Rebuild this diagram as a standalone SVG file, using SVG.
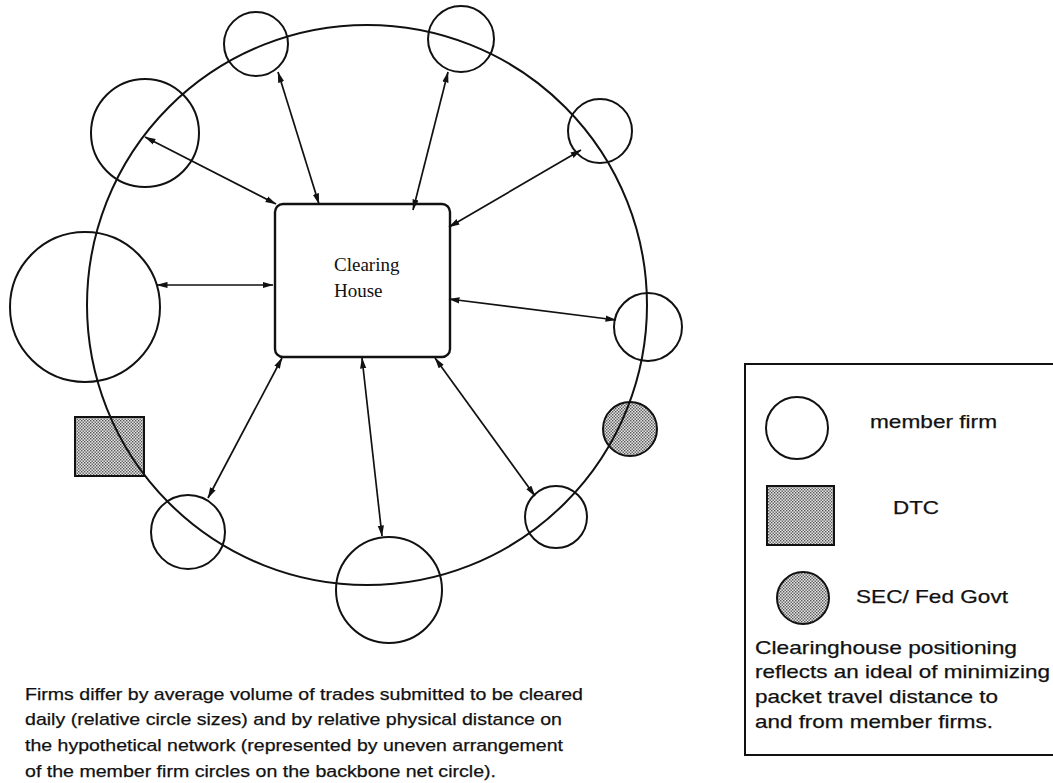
<svg xmlns="http://www.w3.org/2000/svg" width="1053" height="783" viewBox="0 0 1053 783">
  <style>
    .firm { fill: none; stroke: #111; stroke-width: 2; }
    .shaded { fill: url(#stipple); stroke: #111; stroke-width: 2; }
    .backbone { fill: none; stroke: #111; stroke-width: 2; }
    .hub { fill: #fff; stroke: #111; stroke-width: 2.4; }
    .link { stroke: #111; stroke-width: 1.7; fill: none; marker-start: url(#head); marker-end: url(#head); }
    .hubtext { font-family: "Liberation Serif", "Times New Roman", serif; font-size: 19px; fill: #111; }
    .sans { font-family: "Liberation Sans", Arial, sans-serif; fill: #111; stroke: #111; stroke-width: 0.25; }
    .cap { font-size: 17px; }
    .leg { font-size: 19px; }
  </style>
  <defs>
    <pattern id="stipple" width="3" height="3" patternUnits="userSpaceOnUse">
      <rect width="3" height="3" fill="#e4e4e4"/>
      <rect x="0" y="0" width="1.4" height="1.4" fill="#555"/>
      <rect x="1.5" y="1.5" width="1.4" height="1.4" fill="#555"/>
    </pattern>
    <marker id="head" viewBox="0 0 11 7" refX="10.5" refY="3.5" markerWidth="11" markerHeight="7" markerUnits="userSpaceOnUse" orient="auto-start-reverse">
      <path d="M0,0.4 L11,3.5 L0,6.6 Z" fill="#111"/>
    </marker>
  </defs>

  <!-- shaded nodes sit under the backbone ring -->
  <g id="dtc"><rect class="shaded" x="75" y="417" width="69" height="59"/></g>
  <g id="sec-fed"><circle class="shaded" cx="630" cy="429" r="27"/></g>

  <!-- backbone net circle -->
  <g id="backbone"><circle class="backbone" cx="367" cy="305" r="280"/></g>

  <!-- member firms -->
  <g id="firm-upper-left"><circle class="firm" cx="145" cy="133" r="54"/></g>
  <g id="firm-top-left"><circle class="firm" cx="256" cy="44" r="32"/></g>
  <g id="firm-top-right"><circle class="firm" cx="461" cy="39" r="33"/></g>
  <g id="firm-upper-right"><circle class="firm" cx="600" cy="131" r="32"/></g>
  <g id="firm-left"><circle class="firm" cx="85" cy="307" r="75"/></g>
  <g id="firm-right"><circle class="firm" cx="648" cy="327" r="34"/></g>
  <g id="firm-lower-left"><circle class="firm" cx="188" cy="532" r="37"/></g>
  <g id="firm-bottom"><circle class="firm" cx="389" cy="590" r="53"/></g>
  <g id="firm-lower-right"><circle class="firm" cx="556" cy="517" r="31"/></g>

  <!-- clearing house hub -->
  <g id="clearing-house">
    <rect class="hub" x="275" y="204" width="175" height="153" rx="8"/>
    <text class="hubtext" x="334" y="271">Clearing</text>
    <text class="hubtext" x="334" y="297">House</text>
  </g>

  <!-- connectors -->
  <g id="connectors">
    <line class="link" x1="145" y1="137" x2="276" y2="204"/>
    <line class="link" x1="278" y1="72" x2="319" y2="204"/>
    <line class="link" x1="448" y1="72" x2="413" y2="210"/>
    <line class="link" x1="581" y1="150" x2="449" y2="227"/>
    <line class="link" x1="157" y1="285" x2="273" y2="285"/>
    <line class="link" x1="449" y1="299" x2="616" y2="320"/>
    <line class="link" x1="282" y1="358" x2="208" y2="498"/>
    <line class="link" x1="362" y1="358" x2="382" y2="536"/>
    <line class="link" x1="435" y1="358" x2="535" y2="496"/>
  </g>

  <!-- caption -->
  <g id="caption" class="sans cap">
    <text x="25" y="700" textLength="558" lengthAdjust="spacingAndGlyphs">Firms differ by average volume of trades submitted to be cleared</text>
    <text x="25" y="725" textLength="537" lengthAdjust="spacingAndGlyphs">daily (relative circle sizes) and by relative physical distance on</text>
    <text x="25" y="751" textLength="538" lengthAdjust="spacingAndGlyphs">the hypothetical network (represented by uneven arrangement</text>
    <text x="25" y="777" textLength="471" lengthAdjust="spacingAndGlyphs">of the member firm circles on the backbone net circle).</text>
  </g>

  <!-- legend -->
  <g id="legend">
    <rect x="745" y="364" width="320" height="391" fill="none" stroke="#111" stroke-width="2"/>
    <circle class="firm" cx="797" cy="428" r="31"/>
    <text class="sans leg" x="870" y="428" textLength="127" lengthAdjust="spacingAndGlyphs">member firm</text>
    <rect class="shaded" x="767" y="486" width="67" height="59"/>
    <text class="sans leg" x="893" y="514" textLength="46" lengthAdjust="spacingAndGlyphs">DTC</text>
    <circle class="shaded" cx="803" cy="598" r="26"/>
    <text class="sans leg" x="856" y="603" textLength="152" lengthAdjust="spacingAndGlyphs">SEC/ Fed Govt</text>
    <text class="sans leg" x="755" y="654" textLength="262" lengthAdjust="spacingAndGlyphs">Clearinghouse positioning</text>
    <text class="sans leg" x="755" y="678" textLength="295" lengthAdjust="spacingAndGlyphs">reflects an ideal of minimizing</text>
    <text class="sans leg" x="755" y="703" textLength="243" lengthAdjust="spacingAndGlyphs">packet travel distance to</text>
    <text class="sans leg" x="755" y="728" textLength="238" lengthAdjust="spacingAndGlyphs">and from member firms.</text>
  </g>
</svg>
